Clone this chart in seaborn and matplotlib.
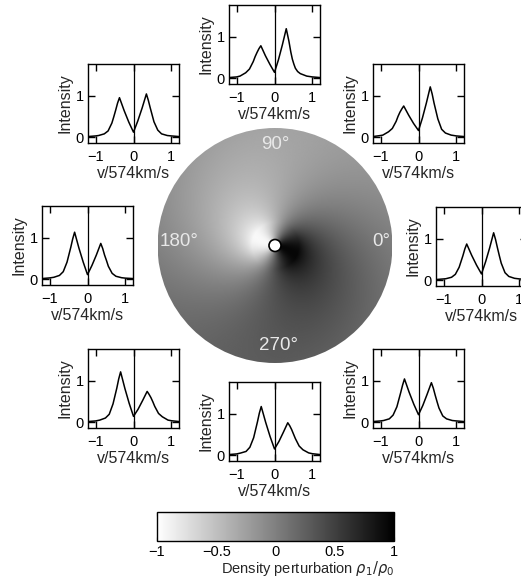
import numpy as np
import matplotlib
matplotlib.use("Agg")
import matplotlib.pyplot as plt
import seaborn as sns
from matplotlib.patches import Circle

W, H = 521, 583

# Emission line profiles (v in units of 574 km/s, normalised intensity)
# for eight viewing azimuths of the perturbed disk.
v_90 = [-1.2, -1.0, -0.91, -0.76, -0.66, -0.56, -0.51, -0.46, -0.41, -0.36, -0.24, -0.12, 0.0,
        0.103, 0.207, 0.31, 0.38, 0.43, 0.47, 0.51, 0.55, 0.61, 0.68, 0.85, 1.0, 1.2]
i_90 = [0.015, 0.03, 0.05, 0.13, 0.22, 0.40, 0.52, 0.62, 0.71, 0.78, 0.54, 0.33, 0.14,
        0.44, 0.80, 1.19, 0.89, 0.63, 0.46, 0.34, 0.24, 0.16, 0.11, 0.05, 0.03, 0.015]

v_45 = [-1.2, -1.0, -0.94, -0.79, -0.69, -0.59, -0.54, -0.49, -0.44, -0.39, -0.26, -0.13, 0.0,
        0.103, 0.207, 0.31, 0.36, 0.41, 0.46, 0.51, 0.61, 0.71, 0.86, 1.0, 1.2]
i_45 = [0.015, 0.04, 0.05, 0.13, 0.21, 0.38, 0.50, 0.60, 0.68, 0.75, 0.53, 0.33, 0.16,
        0.46, 0.82, 1.21, 1.04, 0.82, 0.63, 0.44, 0.19, 0.10, 0.05, 0.03, 0.015]

v_0 = [-1.2, -1.0, -0.94, -0.79, -0.69, -0.59, -0.54, -0.49, -0.44, -0.39, -0.26, -0.13, 0.0,
       0.107, 0.213, 0.32, 0.37, 0.42, 0.47, 0.52, 0.62, 0.72, 0.87, 1.0, 1.2]
i_0 = [0.015, 0.03, 0.035, 0.07, 0.14, 0.31, 0.45, 0.59, 0.75, 0.87, 0.60, 0.36, 0.15,
       0.44, 0.77, 1.14, 0.98, 0.78, 0.59, 0.41, 0.18, 0.09, 0.045, 0.03, 0.015]

v_135 = [-1.2, -1.0, -0.92, -0.77, -0.67, -0.57, -0.52, -0.47, -0.42, -0.37, -0.247, -0.123, 0.0,
         0.113, 0.227, 0.34, 0.39, 0.44, 0.49, 0.54, 0.64, 0.74, 0.89, 1.0, 1.2]
i_135 = [0.015, 0.03, 0.04, 0.08, 0.15, 0.34, 0.49, 0.65, 0.82, 0.95, 0.64, 0.36, 0.12,
         0.39, 0.70, 1.04, 0.89, 0.71, 0.54, 0.37, 0.17, 0.08, 0.04, 0.03, 0.015]

v_180 = [-1.2, -1.0, -0.89, -0.74, -0.64, -0.54, -0.49, -0.44, -0.39, -0.34, -0.227, -0.113, 0.0,
         0.117, 0.233, 0.35, 0.40, 0.45, 0.50, 0.55, 0.65, 0.75, 0.90, 1.0, 1.2]
i_180 = [0.015, 0.03, 0.045, 0.09, 0.18, 0.41, 0.59, 0.77, 0.97, 1.13, 0.75, 0.41, 0.11,
         0.33, 0.58, 0.86, 0.74, 0.58, 0.45, 0.31, 0.14, 0.07, 0.035, 0.025, 0.015]

v_225 = [-1.2, -1.0, -0.89, -0.74, -0.64, -0.54, -0.49, -0.44, -0.39, -0.34, -0.227, -0.113, 0.0,
         0.12, 0.24, 0.36, 0.41, 0.46, 0.51, 0.56, 0.66, 0.76, 0.91, 1.0, 1.2]
i_225 = [0.015, 0.03, 0.05, 0.10, 0.19, 0.44, 0.63, 0.82, 1.04, 1.21, 0.81, 0.45, 0.14,
         0.31, 0.52, 0.74, 0.67, 0.59, 0.49, 0.38, 0.21, 0.13, 0.05, 0.035, 0.015]

v_270 = [-1.2, -1.0, -0.90, -0.75, -0.65, -0.55, -0.50, -0.45, -0.40, -0.35, -0.233, -0.117, 0.0,
         0.117, 0.233, 0.35, 0.40, 0.45, 0.50, 0.55, 0.65, 0.75, 0.90, 1.0, 1.2]
i_270 = [0.015, 0.03, 0.05, 0.09, 0.19, 0.42, 0.61, 0.80, 1.01, 1.17, 0.79, 0.45, 0.15,
         0.33, 0.55, 0.78, 0.71, 0.62, 0.51, 0.40, 0.22, 0.13, 0.055, 0.035, 0.015]

v_315 = [-1.2, -1.0, -0.92, -0.77, -0.67, -0.57, -0.52, -0.47, -0.42, -0.37, -0.247, -0.123, 0.0,
         0.113, 0.227, 0.34, 0.39, 0.44, 0.49, 0.54, 0.64, 0.74, 0.89, 1.0, 1.2]
i_315 = [0.015, 0.03, 0.04, 0.08, 0.17, 0.37, 0.54, 0.71, 0.89, 1.04, 0.72, 0.43, 0.18,
         0.40, 0.67, 0.95, 0.82, 0.65, 0.49, 0.34, 0.15, 0.08, 0.04, 0.03, 0.015]

profiles = {90: (v_90, i_90), 45: (v_45, i_45), 0: (v_0, i_0), 135: (v_135, i_135),
            180: (v_180, i_180), 225: (v_225, i_225), 270: (v_270, i_270),
            315: (v_315, i_315)}

# Pixel box (left, top) of each inset panel
panel_boxes = {90: (229, 5), 45: (373, 64), 0: (436, 207), 135: (88, 64),
               180: (42, 206), 225: (88, 349), 270: (229, 382), 315: (373, 349)}
PANEL_W, PANEL_H = 91, 79

# One-armed spiral density perturbation of the disk
arm_amp = 0.95          # peak amplitude near the star
arm_core = 0.20         # radius (disk units) inside which amplitude saturates
arm_decay = 0.75        # power-law decay of the amplitude with radius
arm_phase0 = -10.0      # phase of the density maximum at the centre (deg)
arm_wind = -75.0        # winding of the arm from centre to edge (deg)
star_radius = 6 / 117.5

angle_labels = ["0°", "90°", "180°", "270°"]
cbar_ticks = [-1, -0.5, 0, 0.5, 1]
cbar_ticklabels = ["−1", "−0.5", "0", "0.5", "1"]

sns.set_style("ticks")
plt.rcParams["font.family"] = ["Liberation Sans", "DejaVu Sans"]
plt.rcParams["axes.linewidth"] = 1.0

fig = plt.figure(figsize=(W / 100, H / 100), dpi=100)


def px_axes(x, y, w, h):
    return fig.add_axes([x / W, 1 - (y + h) / H, w / W, h / H])


# --- central disk image ---
dax = px_axes(157.5, 128, 235, 235)
n = 600
g = np.linspace(-1, 1, n)
X, Y = np.meshgrid(g, g)
R = np.hypot(X, Y)
PHI = np.degrees(np.arctan2(Y, X))
amp = arm_amp * np.minimum(1.0, (np.maximum(R, 1e-3) / arm_core) ** (-arm_decay))
phase = arm_phase0 + arm_wind * R
field = amp * np.cos(np.radians(PHI - phase))
im = dax.imshow(field, extent=(-1, 1, -1, 1), origin="lower", cmap="gray_r",
                vmin=-1, vmax=1, interpolation="bilinear")
clip = Circle((0, 0), 1.0, transform=dax.transData)
im.set_clip_path(clip)
dax.add_patch(Circle((0, 0), star_radius, facecolor="white", edgecolor="black",
                     lw=1.2, zorder=5))
dax.set_xlim(-1, 1)
dax.set_ylim(-1, 1)
dax.set_aspect("equal")
dax.axis("off")

lab_kw = dict(color="#e8e8e8", fontsize=13.5)
dax.text(0.985, 0.03, angle_labels[0], ha="right", va="center", **lab_kw)
dax.text(0.0, 0.93, angle_labels[1], ha="center", va="top", **lab_kw)
dax.text(-0.985, 0.03, angle_labels[2], ha="left", va="center", **lab_kw)
dax.text(0.03, -0.92, angle_labels[3], ha="center", va="bottom", **lab_kw)

# --- profile panels ---
for ang, (vv, ii) in profiles.items():
    x0, y0 = panel_boxes[ang]
    ax = px_axes(x0, y0, PANEL_W, PANEL_H)
    sns.lineplot(x=vv, y=ii, ax=ax, color="black", lw=1.1, sort=False,
                 estimator=None)
    ax.axvline(0, color="black", lw=0.9)
    ax.set_xlim(-1.2, 1.2)
    ax.set_ylim(-0.14, 1.76)
    ax.set_xticks([-1, 0, 1])
    ax.set_yticks([0, 1])
    ax.set_xticklabels(["−1", "0", "1"])
    ax.set_yticklabels(["0", "1"])
    ax.tick_params(direction="in", length=5, width=1, top=True, right=True,
                   labelsize=10.5, colors="black")
    ax.tick_params(axis="x", pad=5)
    ax.tick_params(axis="y", pad=3)
    ax.set_xlabel("v/574km/s", fontsize=11.5, labelpad=1.5)
    ax.set_ylabel("Intensity", fontsize=11.5, labelpad=2)
    for s in ax.spines.values():
        s.set_color("black")
        s.set_linewidth(1.0)

# --- colour bar ---
cax = px_axes(157, 512, 237, 29)
cb = fig.colorbar(im, cax=cax, orientation="horizontal")
cb.outline.set_linewidth(1.0)
cb.outline.set_edgecolor("black")
minor = np.round(np.arange(-1, 1.001, 0.1), 1)
cax.set_xticks(minor, minor=True)
cax.set_xticks(cbar_ticks)
cax.set_xticklabels(cbar_ticklabels)
cax.tick_params(which="both", direction="in", length=3, width=0.8, top=True,
                bottom=True, labelsize=10.5, pad=3, colors="black")
fig.text(394 / W, 1 - 568 / H, r"Density perturbation $\rho_1/\rho_0$",
         ha="right", va="center", fontsize=10.5)

fig.savefig("out.png", dpi=100, facecolor="white")
